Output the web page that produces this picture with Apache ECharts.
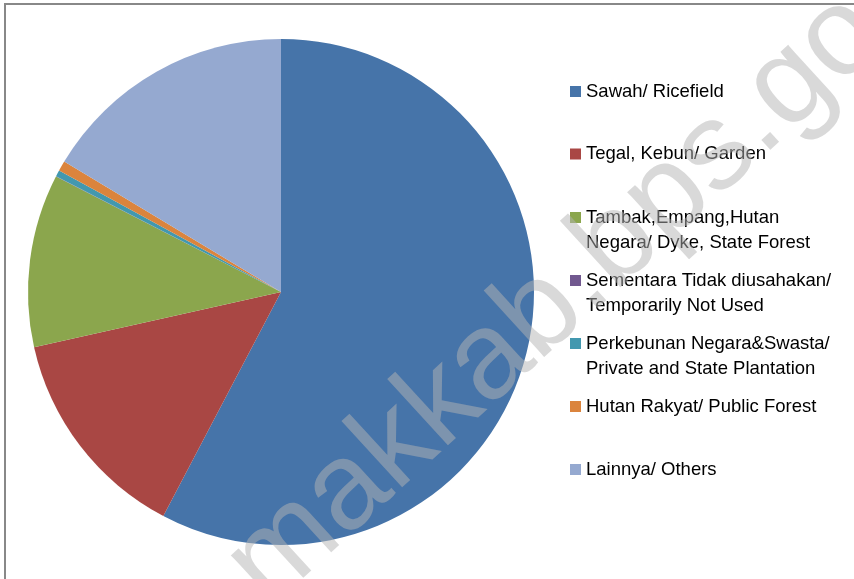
<!DOCTYPE html>
<html>
<head>
    <meta charset="utf-8">
    <script src="https://cdn.jsdelivr.net/npm/echarts@6/dist/echarts.min.js"></script>
    <style>
        html, body { margin: 0; padding: 0; background: #fff; }
    </style>
</head>
<body>
<div id="chart" style="width:854px;height:579px"></div>
<script type="text/javascript">
    // penggunaan lahan (persen)
    var categories = [
        'Sawah/ Ricefield',
        'Tegal, Kebun/ Garden',
        'Tambak,Empang,Hutan\nNegara/ Dyke, State Forest',
        'Sementara Tidak diusahakan/\nTemporarily Not Used',
        'Perkebunan Negara&Swasta/\nPrivate and State Plantation',
        'Hutan Rakyat/ Public Forest',
        'Lainnya/ Others'
    ];
    var values = [57.7, 13.8, 11.05, 0.02, 0.4, 0.65, 16.38];
    var colors = ['#4674A9', '#A94744', '#8BA64D', '#71588F', '#4298AF', '#DB843D', '#95A9D0'];
    // posisi atas tiap legenda
    var legendTops = [79, 141.5, 180, 243, 306, 394, 457];

    var myChart = echarts.init(document.getElementById('chart'));

    var legends = categories.map(function (name, i) {
        return {
            data: [name],
            orient: 'vertical',
            left: 570,
            top: legendTops[i],
            padding: 0,
            icon: 'rect',
            itemWidth: 11,
            itemHeight: 11,
            itemGap: 0,
            selectedMode: false,
            // baris kosong di atas supaya ikon sejajar baris pertama
            formatter: function (n) {
                return n.indexOf('\n') >= 0 ? ' \n' + n : n;
            },
            textStyle: {
                fontFamily: 'Liberation Sans',
                fontSize: 18.5,
                lineHeight: 25,
                color: '#000'
            }
        };
    });

    var option = {
        backgroundColor: '#fff',
        animation: false,
        color: colors,
        legend: legends,
        graphic: [{
            type: 'rect',
            shape: { x: 5, y: 4, width: 900, height: 700 },
            style: { fill: 'none', stroke: '#888', lineWidth: 2 },
            z: 0
        }, {
            type: 'text',
            x: 556,
            y: 300,
            rotation: 42.5 * Math.PI / 180,
            z: 100,
            silent: true,
            style: {
                text: 'makkab.bps.go',
                fontFamily: 'Liberation Sans',
                fontSize: 124,
                fill: 'rgba(180,180,180,0.5)',
                align: 'center',
                verticalAlign: 'middle'
            }
        }],
        series: [{
            type: 'pie',
            center: [281, 292],
            radius: 253,
            startAngle: 90,
            clockwise: true,
            label: { show: false },
            labelLine: { show: false },
            itemStyle: { borderWidth: 0 },
            emphasis: { disabled: true },
            data: categories.map(function (c, i) {
                return { name: c, value: values[i] };
            })
        }]
    };
    myChart.setOption(option);
</script>
</body>
</html>
